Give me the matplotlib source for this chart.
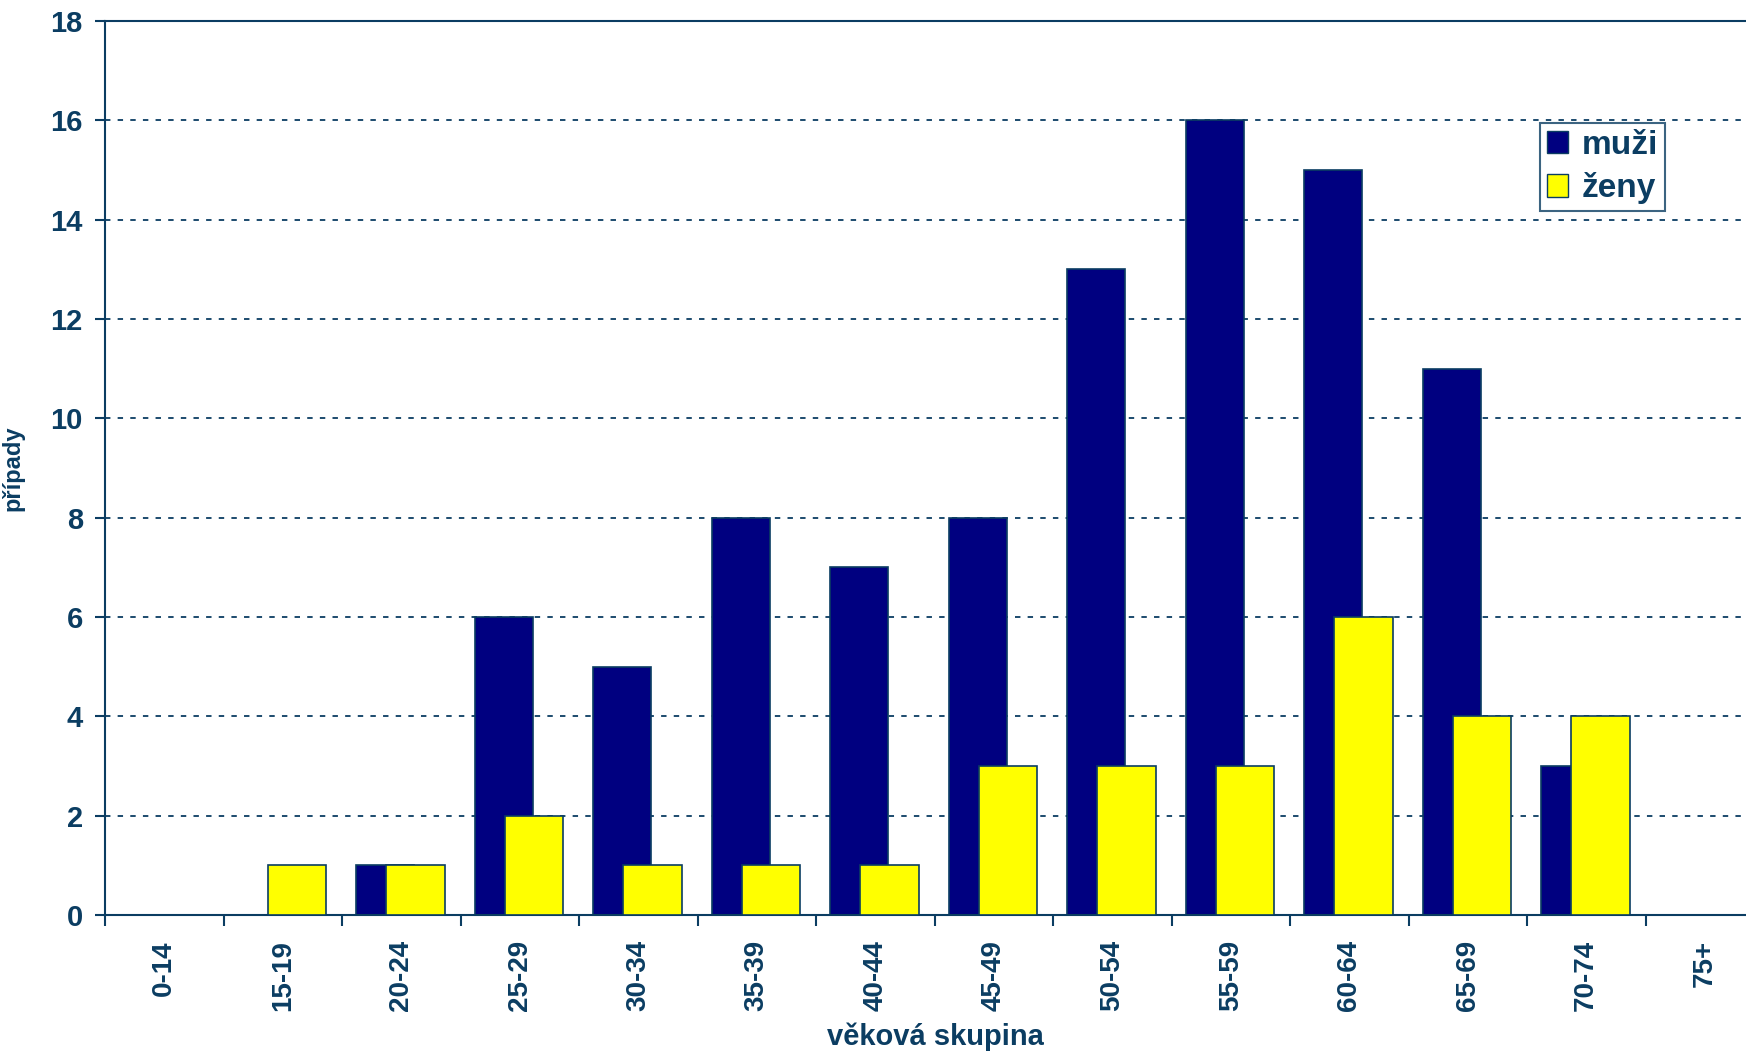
import numpy as np
import matplotlib.pyplot as plt
from matplotlib.patches import Patch

plt.rcParams['font.family'] = ['Liberation Sans', 'DejaVu Sans']
plt.rcParams['font.weight'] = 'bold'

groups = ['0-14', '15-19', '20-24', '25-29', '30-34', '35-39', '40-44',
          '45-49', '50-54', '55-59', '60-64', '65-69', '70-74', '75+']
muzi = [0, 0, 1, 6, 5, 8, 7, 8, 13, 16, 15, 11, 3, 0]
zeny = [0, 1, 1, 2, 1, 1, 1, 3, 3, 3, 6, 4, 4, 0]

txt = '#0B3D62'
navy = '#000080'
yellow = '#FFFF00'

fig = plt.figure(figsize=(17.46, 10.51), dpi=100)
ax = fig.add_axes([105 / 1746, 1 - 915 / 1051, 1 - 105 / 1746, 894 / 1051])

x = np.arange(len(groups))
w = 0.49
for i in x:
    if muzi[i] > 0:
        ax.bar(i - 0.135, muzi[i], w, color=navy, edgecolor=txt, linewidth=1.2, zorder=2)
    if zeny[i] > 0:
        ax.bar(i + 0.12, zeny[i], w, color=yellow, edgecolor=txt, linewidth=1.2, zorder=3)

# the plot area runs a little past the right edge of the picture
ax.set_xlim(-0.5, -0.5 + 1641 / 118.5)
ax.set_ylim(0, 18)
ax.set_yticks(range(0, 19, 2))
ax.set_xticks(x)
ax.set_xticklabels(groups, rotation=90)
ax.set_xticks(np.arange(-0.5, len(groups) - 0.5, 1), minor=True)
ax.tick_params(axis='x', which='major', length=0, pad=18, labelsize=20, labelcolor=txt)
ax.tick_params(axis='x', which='minor', length=8, width=1.5, color=txt, direction='out')
ax.tick_params(axis='y', length=7, width=1.5, color=txt, pad=9, labelsize=21, labelcolor=txt)

ax.yaxis.grid(True, linestyle=(0, (3, 4)), color=txt, linewidth=1.3, zorder=0)
ax.set_axisbelow(True)
ax.spines['right'].set_visible(False)
for s in ['left', 'bottom', 'top']:
    ax.spines[s].set_color(txt)
    ax.spines[s].set_linewidth(1.5)

ax.set_ylabel('případy', fontsize=17, fontweight='bold', color=txt)
ax.yaxis.set_label_coords(-0.049, 0.5)
ax.set_xlabel('věková skupina', fontsize=21, fontweight='bold', color=txt)
ax.xaxis.set_label_coords(0.506, -0.12)

handles = [Patch(facecolor=navy, edgecolor=txt, label='muži'),
           Patch(facecolor=yellow, edgecolor=txt, label='ženy')]
leg = ax.legend(handles=handles, loc='upper left', bbox_to_anchor=(1540 / 1746, 1 - 123 / 1051),
                bbox_transform=fig.transFigure, fontsize=24, frameon=True, fancybox=False,
                edgecolor=txt, handlelength=0.65, handleheight=0.65, handletextpad=0.4,
                borderpad=0.2, labelspacing=0.35, borderaxespad=0)
leg.get_frame().set_linewidth(1.5)
for t in leg.get_texts():
    t.set_color(txt)

fig.savefig('out.png', dpi=100)
